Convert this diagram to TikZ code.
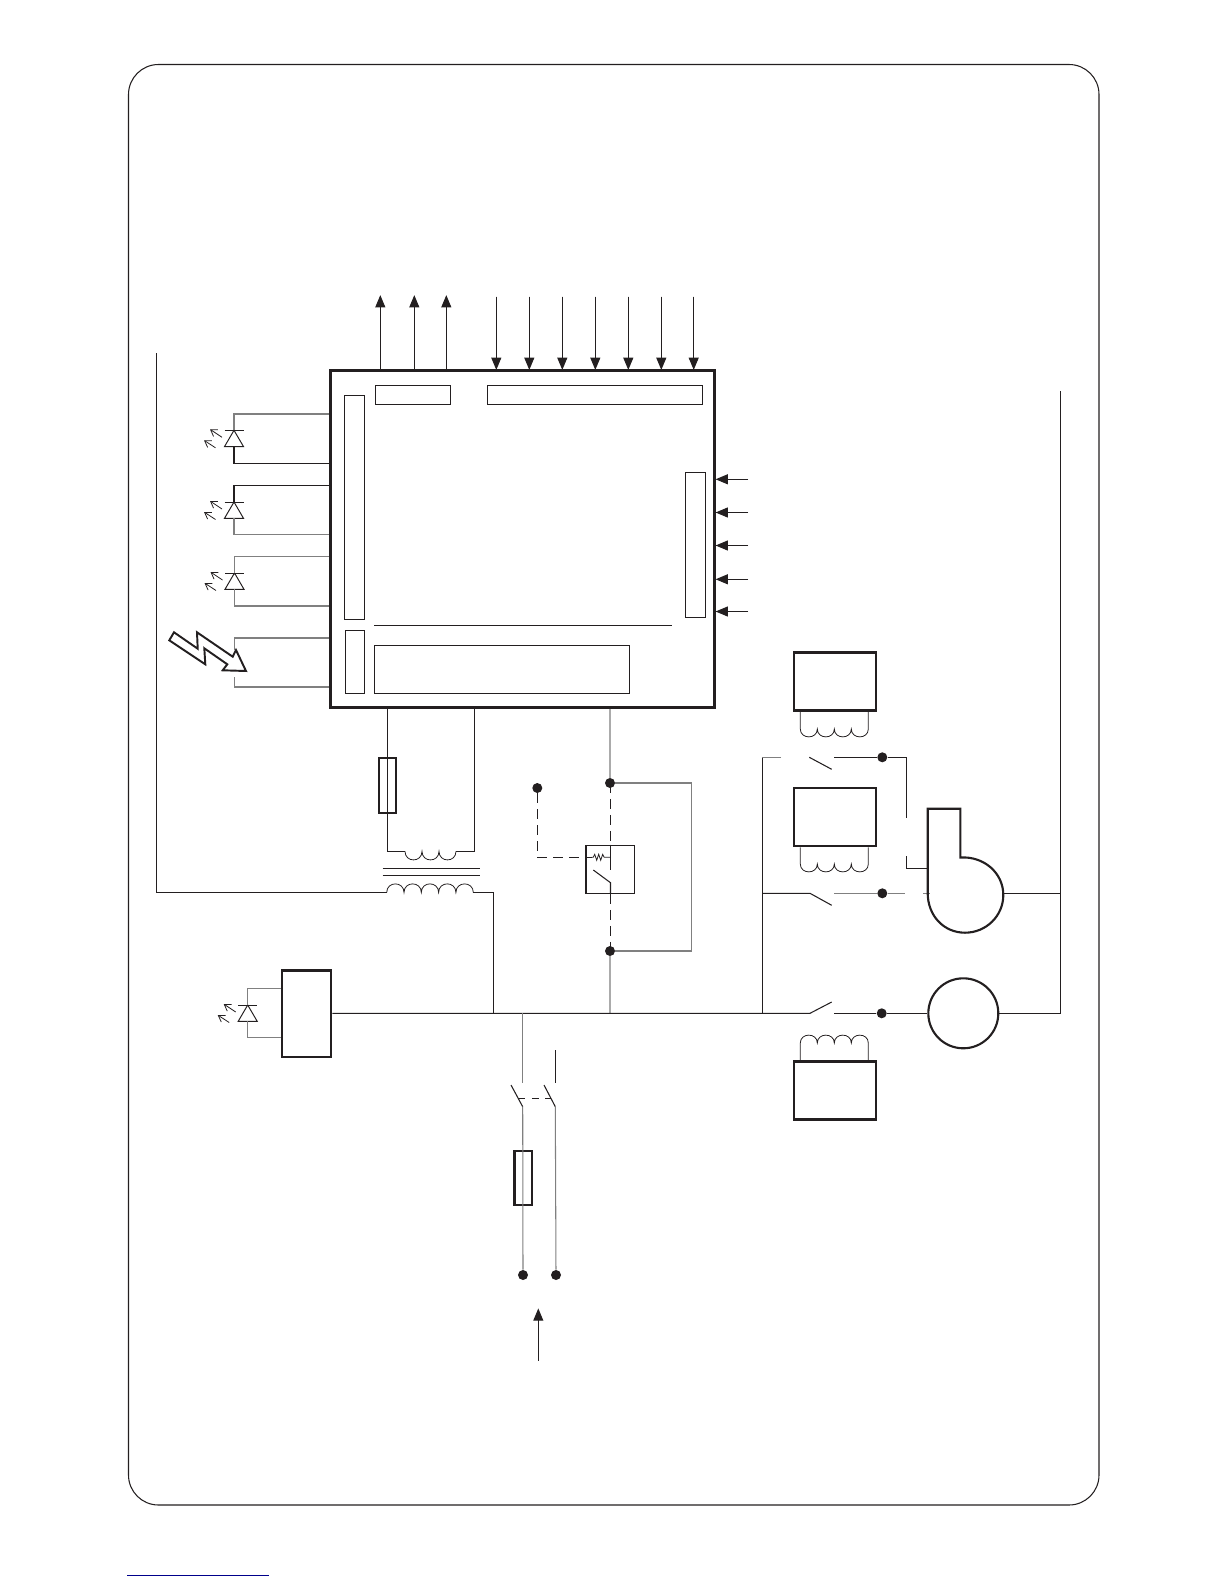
\documentclass[tikz,border=0pt]{standalone}
\usepackage{amsmath}
\usetikzlibrary{arrows.meta}
\definecolor{inkblack}{HTML}{231F20}
\definecolor{wiregrey}{HTML}{808080}
\definecolor{palegrey}{HTML}{ABABAB}
\definecolor{linkblue}{HTML}{00008B}

\begin{document}
\begin{tikzpicture}[x=0.02cm,y=-0.02cm]

\tikzset{
    wire/.style={draw=inkblack, line width=0.6pt},
    thinwire/.style={draw=inkblack, line width=0.45pt},
    greywire/.style={draw=wiregrey, line width=0.6pt},
    palewire/.style={draw=palegrey, line width=0.9pt},
    dashwire/.style={draw=inkblack, line width=0.6pt, dash pattern=on 5.5pt off 3.6pt},
    thinbox/.style={draw=inkblack, line width=0.65pt, inner sep=0pt, minimum width=#1},
    heavybox/.style={draw=inkblack, line width=1.6pt, inner sep=0pt, minimum width=#1},
    fusebox/.style={draw=inkblack, line width=1.2pt, inner sep=0pt, minimum width=0.35cm, minimum height=1.11cm},
    dot/.style={circle, fill=inkblack, inner sep=0pt, minimum size=0.2cm},
    sigarrow/.style={-{Triangle[length=7pt,width=5.7pt]}, draw=inkblack, fill=inkblack, line width=0.6pt, shorten >=-0.5pt},
    hump/.style={to path={.. controls +(0,#1) and +(0,#1) .. (\tikztotarget)}},
    ledsym/.pic={
        \draw[wire, line width=0.55pt] (-9.5,0) -- (9.5,0);
        \draw[wire, line width=0.55pt] (0,0) -- (9.5,16.3) -- (-9.5,16.3) -- cycle;
        \draw[thinwire, -{Straight Barb[length=3.5pt,width=4.5pt]}] (-12,7) -- (-24,-1);
        \draw[thinwire, -{Straight Barb[length=3.5pt,width=4.5pt]}] (-18.5,17.5) -- (-30,10);
    }
}

\useasboundingbox (0,0) rectangle (1224,1584);
% outer frame
\draw[wire, rounded corners=0.6cm] (128.5,64.5) rectangle (1099,1505);
\coordinate (ruleA) at (127.3,1575.3);
\coordinate (ruleB) at (268.7,1575.3);
\draw[draw=linkblue, line width=0.6pt] (ruleA) -- (ruleB);

% controller board
\node[heavybox=7.69cm, minimum height=6.74cm, line width=1.7pt] (board) at (522.75,539) {};
\node[thinbox=1.51cm, minimum height=0.38cm] (outconn) at (413,394.8) {};
\node[thinbox=4.31cm, minimum height=0.38cm] (inconn) at (595,394.8) {};
\node[thinbox=0.40cm, minimum height=4.48cm] (ledconn) at (354.3,507.3) {};
\node[thinbox=0.38cm, minimum height=1.26cm] (flameconn) at (354.8,661.8) {};
\node[thinbox=0.40cm, minimum height=2.90cm] (sideconn) at (695.3,544.8) {};
\node[thinbox=5.10cm, minimum height=0.96cm] (termblock) at (501.8,669.3) {};
\coordinate (divA) at (374,625.3);
\coordinate (divB) at (672,625.3);
\draw[wire] (divA) -- (divB);

% outputs and inputs on top of the board
\coordinate (outA) at (380.3,296);
\coordinate (outB) at (414.3,296);
\coordinate (outC) at (446.3,296);
\draw[sigarrow] (outA |- board.north) ++(0,2) -- (outA);
\draw[sigarrow] (outB |- board.north) ++(0,2) -- (outB);
\draw[sigarrow] (outC |- board.north) ++(0,2) -- (outC);
\coordinate (inA) at (496.3,296.7);
\coordinate (inB) at (529.3,296.7);
\coordinate (inC) at (562.3,296.7);
\coordinate (inD) at (595.3,296.7);
\coordinate (inE) at (628.3,296.7);
\coordinate (inF) at (661.3,296.7);
\coordinate (inG) at (693.7,296.7);
\draw[sigarrow] (inA) -- (inA |- board.north);
\draw[sigarrow] (inB) -- (inB |- board.north);
\draw[sigarrow] (inC) -- (inC |- board.north);
\draw[sigarrow] (inD) -- (inD |- board.north);
\draw[sigarrow] (inE) -- (inE |- board.north);
\draw[sigarrow] (inF) -- (inF |- board.north);
\draw[sigarrow] (inG) -- (inG |- board.north);
\coordinate (sideA) at (748,479.3);
\coordinate (sideB) at (748,512.5);
\coordinate (sideC) at (748,545.5);
\coordinate (sideD) at (748,579.3);
\coordinate (sideE) at (748,611.5);
\draw[sigarrow] (sideA) -- (sideA -| board.east);
\draw[sigarrow] (sideB) -- (sideB -| board.east);
\draw[sigarrow] (sideC) -- (sideC -| board.east);
\draw[sigarrow] (sideD) -- (sideD -| board.east);
\draw[sigarrow] (sideE) -- (sideE -| board.east);

% indicator lamps on the left side
\coordinate (ledAtop) at (234,414);
\coordinate (ledAbot) at (234,463.3);
\pic at (234,430.3) {ledsym};
\draw[greywire] (board.west |- ledAtop) -- (ledAtop) -- +(0,16.3);
\draw[wire] (board.west |- ledAbot) -- (ledAbot) -- +(0,-16.6);
\coordinate (ledBtop) at (234,485.3);
\coordinate (ledBbot) at (234,534.3);
\pic at (234,502) {ledsym};
\draw[wire] (board.west |- ledBtop) -- (ledBtop) -- +(0,16.7);
\draw[greywire] (board.west |- ledBbot) -- (ledBbot) -- +(0,-16.3);
\coordinate (ledCtop) at (234.5,556.7);
\coordinate (ledCbot) at (234.5,606);
\pic at (234.5,573) {ledsym};
\draw[greywire] (board.west |- ledCtop) -- (ledCtop) -- +(0,16.3);
\draw[greywire] (board.west |- ledCbot) -- (ledCbot) -- +(0,-16.7);
\coordinate (flameT) at (234.5,638);
\coordinate (flameB) at (234.5,687);
\draw[greywire] (board.west |- flameT) -- (flameT) -- +(0,12);
\draw[greywire] (board.west |- flameB) -- (flameB) -- +(0,-10);
\draw[draw=inkblack, fill=white, line width=1.1pt] (169.3,640.3) -- (174,632.3) -- (197.7,648.7) -- (197,632.3) -- (232.7,656.7) -- (236,650) -- (246,671) -- (222.7,670.3) -- (227.3,664.3) -- (204.3,648.3) -- (205.3,664.3) -- cycle;

% transformer under the board
\coordinate (secA) at (387.3,851.3);
\coordinate (secB) at (474.7,851.3);
\coordinate (humpA) at (405,851.3);
\coordinate (humpB) at (456,851.3);
\node[fusebox] (fuseT) at (387.3,785.5) {};
\draw[wire] (secA |- board.south) -- (secA) -- (humpA);
\draw[wire] (secB |- board.south) -- (secB) -- (humpB);
\draw[thinwire] (humpA) to[hump=11.5] ++(17,0) to[hump=11.5] ++(17,0) to[hump=11.5] ++(17,0);
\coordinate (coreA) at (382.7,868.3);
\coordinate (coreB) at (480,868.3);
\coordinate (coreC) at (382.7,875.3);
\coordinate (coreD) at (480,875.3);
\draw[wire] (coreA) -- (coreB);
\draw[wire] (coreC) -- (coreD);
\coordinate (mainsL) at (156.3,353.5);
\coordinate (priA) at (386.7,892.5);
\coordinate (priB) at (473.3,892.5);
\coordinate (priC) at (493.3,892.5);
\coordinate (busT) at (493.3,1013.3);
\draw[wire] (mainsL) -- (mainsL |- priA) -- (priA);
\draw[thinwire] (priA) to[hump=-11.5] ++(17.3,0) to[hump=-11.5] ++(17.3,0) to[hump=-11.5] ++(17.3,0) to[hump=-11.5] ++(17.3,0) to[hump=-11.5] ++(17.4,0);
\draw[wire] (priB) -- (priC) -- (busT);

% safety thermostat
\node[dot] (dotA) at (610,783) {};
\node[dot] (dotB) at (610,951) {};
\node[dot] (dotC) at (537.3,788) {};
\node[thinbox=0.97cm, minimum height=0.96cm] (stat) at (610.2,869.3) {};
\coordinate (statR) at (691.7,783);
\coordinate (statU) at (610.5,783);
\coordinate (statL) at (610.5,951);
\coordinate (statM) at (610.5,870);
\coordinate (bladeA) at (593.3,870);
\coordinate (bladeB) at (610.5,882.7);
\coordinate (resA) at (591.7,857.3);
\coordinate (resB) at (605,857.3);
\coordinate (resC) at (610.5,857.3);
\coordinate (busS) at (610,1013.3);
\draw[palewire] (dotA |- board.south) -- (dotA);
\draw[palewire] (dotB) -- (busS);
\draw[greywire] (dotA) -- (statR) -- (statR |- dotB) -- (dotB);
\draw[dashwire] (statU) -- (statU |- stat.north);
\draw[wire] (statU |- stat.north) -- (statM);
\draw[wire] (bladeA) -- (bladeB) -- (bladeB |- stat.south);
\draw[dashwire] (statL |- stat.south) -- (statL);
\draw[dashwire] (dotC) -- (dotC |- resA) -- (resA);
\draw[thinwire] (resA) -- ++(1.5,0) -- ++(1.5,-3) -- ++(2,6) -- ++(2,-6) -- ++(2,6) -- ++(2,-6) -- ++(1.5,3) -- (resB) -- (resC);

% pilot lamp block and main bus
\node[heavybox=0.98cm, minimum height=1.73cm] (lampbox) at (306.5,1013.7) {};
\coordinate (ledDtop) at (247.7,988.3);
\coordinate (ledDbot) at (247.7,1037.7);
\pic at (247.7,1005) {ledsym};
\draw[greywire] (lampbox.west |- ledDtop) -- (ledDtop) -- +(0,16.7);
\draw[greywire] (lampbox.west |- ledDbot) -- (ledDbot) -- +(0,-16.4);
\coordinate (busP) at (810,1013.3);
\coordinate (busQ) at (831.7,1002);
\draw[wire] (lampbox.east |- busP) -- (busP) -- (busQ);

% main switch and supply fuse
\coordinate (poleA) at (522.3,1083.3);
\coordinate (poleB) at (555.3,1050);
\coordinate (poleC) at (555.3,1083.3);
\coordinate (tipA) at (511,1085);
\coordinate (tipB) at (544,1085);
\coordinate (hingeA) at (522.7,1106.7);
\coordinate (hingeB) at (555.3,1106.7);
\coordinate (linkA) at (518.3,1098.3);
\coordinate (linkB) at (550.7,1098.3);
\node[dot] (supA) at (523,1275) {};
\node[dot] (supB) at (556,1275) {};
\node[fusebox, minimum height=1.09cm] (fuseS) at (523.2,1178) {};
\draw[greywire] (poleA |- busP) -- (poleA);
\draw[wire] (poleB) -- (poleC);
\draw[wire] (tipA) -- (hingeA);
\draw[wire] (tipB) -- (hingeB);
\draw[wire, dash pattern=on 4pt off 3.7pt] (linkA) -- (linkB);
\draw[greywire] (hingeA) -- (supA);
\draw[greywire] (hingeB) -- (supB);
\coordinate (feedA) at (538.3,1360.7);
\coordinate (feedB) at (538.3,1309.3);
\draw[sigarrow] (feedA) -- (feedB);

% contactors with their coils
\node[heavybox=1.64cm, minimum height=1.17cm] (coilA) at (835,681.5) {};
\node[heavybox=1.64cm, minimum height=1.16cm] (coilB) at (835,817) {};
\node[heavybox=1.64cm, minimum height=1.15cm] (coilC) at (835,1090.6) {};
\coordinate (legA) at (800.3,729);
\coordinate (legB) at (868.3,729);
\coordinate (legC) at (800.3,864);
\coordinate (legD) at (868.3,864);
\coordinate (legE) at (800.3,1043);
\coordinate (legF) at (868.3,1043);
\draw[thinwire] (coilA.south -| legA) -- (legA) to[hump=10.5] ++(17,0) to[hump=10.5] ++(17,0) to[hump=10.5] ++(17,0) to[hump=10.5] ++(17,0) -- (coilA.south -| legB);
\draw[thinwire] (coilB.south -| legC) -- (legC) to[hump=10.5] ++(17,0) to[hump=10.5] ++(17,0) to[hump=10.5] ++(17,0) to[hump=10.5] ++(17,0) -- (coilB.south -| legD);
\draw[thinwire] (coilC.north -| legE) -- (legE) to[hump=-10.5] ++(17,0) to[hump=-10.5] ++(17,0) to[hump=-10.5] ++(17,0) to[hump=-10.5] ++(17,0) -- (coilC.north -| legF);

% fan and pump
\node[dot] (dotD) at (882.3,757.3) {};
\node[dot] (dotE) at (882.3,893.3) {};
\node[dot] (dotF) at (881.7,1013.3) {};
\node[circle, draw=inkblack, line width=1.2pt, inner sep=0pt, minimum size=1.4cm] (pump) at (963.3,1013.3) {};
\coordinate (railL) at (762.3,757.7);
\coordinate (railStub) at (781,757.7);
\coordinate (railLb) at (762.3,893.3);
\coordinate (railLc) at (762.3,1013.3);
\coordinate (railR) at (1060.7,391);
\coordinate (railRb) at (1060.7,893.3);
\coordinate (fanE) at (1003.3,893.3);
\coordinate (contA) at (810,893.3);
\coordinate (contB) at (831.7,905.3);
\coordinate (contC) at (809.3,757.3);
\coordinate (contD) at (831.7,769.3);
\coordinate (contE) at (834,757.3);
\coordinate (contF) at (834,893.3);
\coordinate (contG) at (834,1013.3);
\coordinate (fanA) at (906.3,757.3);
\coordinate (fanB) at (906.3,818.3);
\coordinate (fanC) at (906.3,856);
\coordinate (fanD) at (906.3,868.3);
\coordinate (fanF) at (927.7,868.3);
\coordinate (fanG) at (905,893.3);
\coordinate (fanH) at (923.3,893.3);
\coordinate (fanJ) at (930,893.3);
\draw[greywire] (railStub) -- (railL);
\draw[wire] (railL) -- (railLc);
\draw[wire] (railLb) -- (contA) -- (contB);
\draw[wire] (contC) -- (contD);
\draw[wire] (contE) -- (dotD) -- (fanA) -- (fanB);
\draw[greywire] (contF) -- (dotE) -- (fanG);
\draw[greywire] (fanH) -- (fanJ);
\draw[wire] (fanC) -- (fanD) -- (fanF);
\draw[wire] (contG) -- (dotF) -- (pump.west);
\draw[wire] (pump.east) -- (pump.east -| railR) -- (railR);
\draw[draw=inkblack, line width=1.2pt] (927.7,893) -- (927.7,808.7) -- (960.3,808.7) -- (960.3,857.5)
    .. controls (984,856) and (1003.3,873) .. (1003.3,895)
    .. controls (1003.3,916) and (986,932.7) .. (965,932.7)
    .. controls (944,932.7) and (927.7,916) .. (927.7,893);
\draw[wire] (fanE) -- (railRb);

\end{tikzpicture}
\end{document}
